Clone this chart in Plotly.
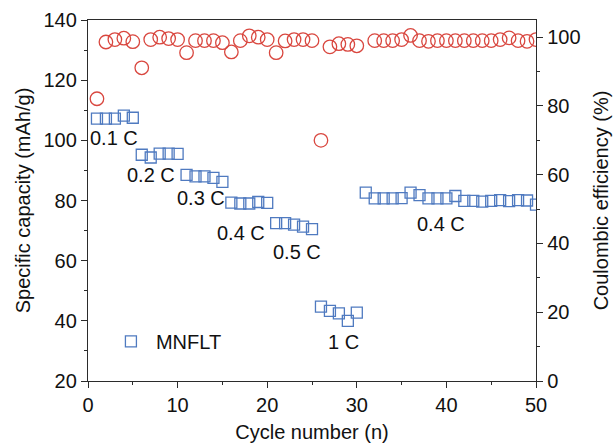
import plotly.graph_objects as go

# Cycle index shared by both series
cycles = list(range(1, 51))

# Specific capacity (mAh/g) of MNFLT per cycle
capacity = [
    107.2, 107.2, 107.2, 108.2, 107.5,
    95.2, 94.3, 95.6, 95.6, 95.5,
    88.5, 88.0, 88.0, 87.5, 86.2,
    79.3, 79.0, 79.0, 79.5, 79.2,
    72.5, 72.5, 72.0, 71.3, 70.5,
    44.7, 43.3, 42.5, 40.0, 42.7,
    82.6, 80.7, 80.7, 80.7, 80.8, 82.6, 81.8, 80.7, 80.7, 80.7,
    81.5, 79.9, 79.9, 79.6, 79.9, 80.1, 79.8, 80.1, 80.0, 78.6,
]

# Coulombic efficiency (%) per cycle (cycle 31 not recorded)
efficiency = [
    82.1, 98.6, 99.3, 99.7, 98.7,
    91.1, 99.3, 100.0, 99.6, 99.3,
    95.5, 99.0, 99.0, 99.0, 98.4,
    95.7, 99.0, 100.4, 100.0, 99.3,
    95.5, 98.9, 99.3, 99.3, 99.0,
    70.0, 97.2, 98.1, 97.9, 97.5,
    None, 99.0, 99.0, 99.0, 99.3, 100.5, 99.0, 98.8, 99.0, 99.0,
    99.0, 99.0, 99.0, 99.0, 99.0, 99.3, 99.8, 99.0, 98.8, 99.3,
]

# Current-rate labels and where they sit (cycle, capacity)
rate_labels = ["0.1 C", "0.2 C", "0.3 C", "0.4 C", "0.5 C", "1 C", "0.4 C"]
rate_label_x = [2.9, 7.0, 12.6, 17.1, 23.3, 28.5, 39.4]
rate_label_y = [100.8, 88.5, 80.8, 69.2, 62.9, 33.0, 72.2]

FONT = "Liberation Sans, Arial, sans-serif"
BLUE = "#4f7ac0"
RED = "#d9473f"
AXIS = "#2b2b2b"
FS = 20

fig = go.Figure()

fig.add_trace(go.Scatter(
    x=cycles, y=capacity, mode="markers", name="MNFLT",
    marker=dict(symbol="square-open", size=11, color=BLUE, line=dict(width=1.3, color=BLUE)),
    yaxis="y",
))

fig.add_trace(go.Scatter(
    x=cycles, y=efficiency, mode="markers", name="CE", showlegend=False,
    marker=dict(symbol="circle-open", size=13.5, color=RED, line=dict(width=1.3, color=RED)),
    yaxis="y2",
))

for txt, lx, ly in zip(rate_labels, rate_label_x, rate_label_y):
    fig.add_annotation(x=lx, y=ly, xref="x", yref="y", text=txt, showarrow=False,
                       font=dict(family=FONT, size=FS, color="#111111"))

axis_common = dict(
    showgrid=False, zeroline=False, showline=True, linecolor=AXIS, linewidth=1.3,
    ticks="outside", ticklen=6, tickwidth=1.3, tickcolor=AXIS,
    tickfont=dict(family=FONT, size=FS, color="#111111"),
    automargin=False,
)

fig.update_layout(
    width=614, height=448,
    margin=dict(l=88, r=78, t=20, b=67),
    paper_bgcolor="white", plot_bgcolor="white",
    font=dict(family=FONT, size=FS, color="#111111"),
    xaxis=dict(
        range=[0, 50], dtick=10, tick0=0, mirror=True,
        minor=dict(dtick=5, ticks="outside", ticklen=3, tickwidth=1.2, tickcolor=AXIS),
        title=dict(text="Cycle number (n)", font=dict(family=FONT, size=FS), standoff=9),
        **axis_common,
    ),
    yaxis=dict(
        range=[20, 140], dtick=20, tick0=20,
        minor=dict(dtick=10, ticks="outside", ticklen=3, tickwidth=1.2, tickcolor=AXIS),
        title=dict(text="Specific capacity (mAh/g)", font=dict(family=FONT, size=FS), standoff=7),
        **axis_common,
    ),
    yaxis2=dict(
        range=[0, 105], dtick=20, tick0=0, overlaying="y", side="right",
        minor=dict(dtick=10, ticks="outside", ticklen=3, tickwidth=1.2, tickcolor=AXIS),
        title=dict(text="Coulombic efficiency (%)", font=dict(family=FONT, size=FS), standoff=14),
        **axis_common,
    ),
    legend=dict(
        x=0.04, y=0.11, xanchor="left", yanchor="middle",
        bgcolor="rgba(0,0,0,0)", borderwidth=0,
        font=dict(family=FONT, size=FS, color="#111111"),
        itemwidth=40,
    ),
    showlegend=True,
)

fig.write_html("out.html")
